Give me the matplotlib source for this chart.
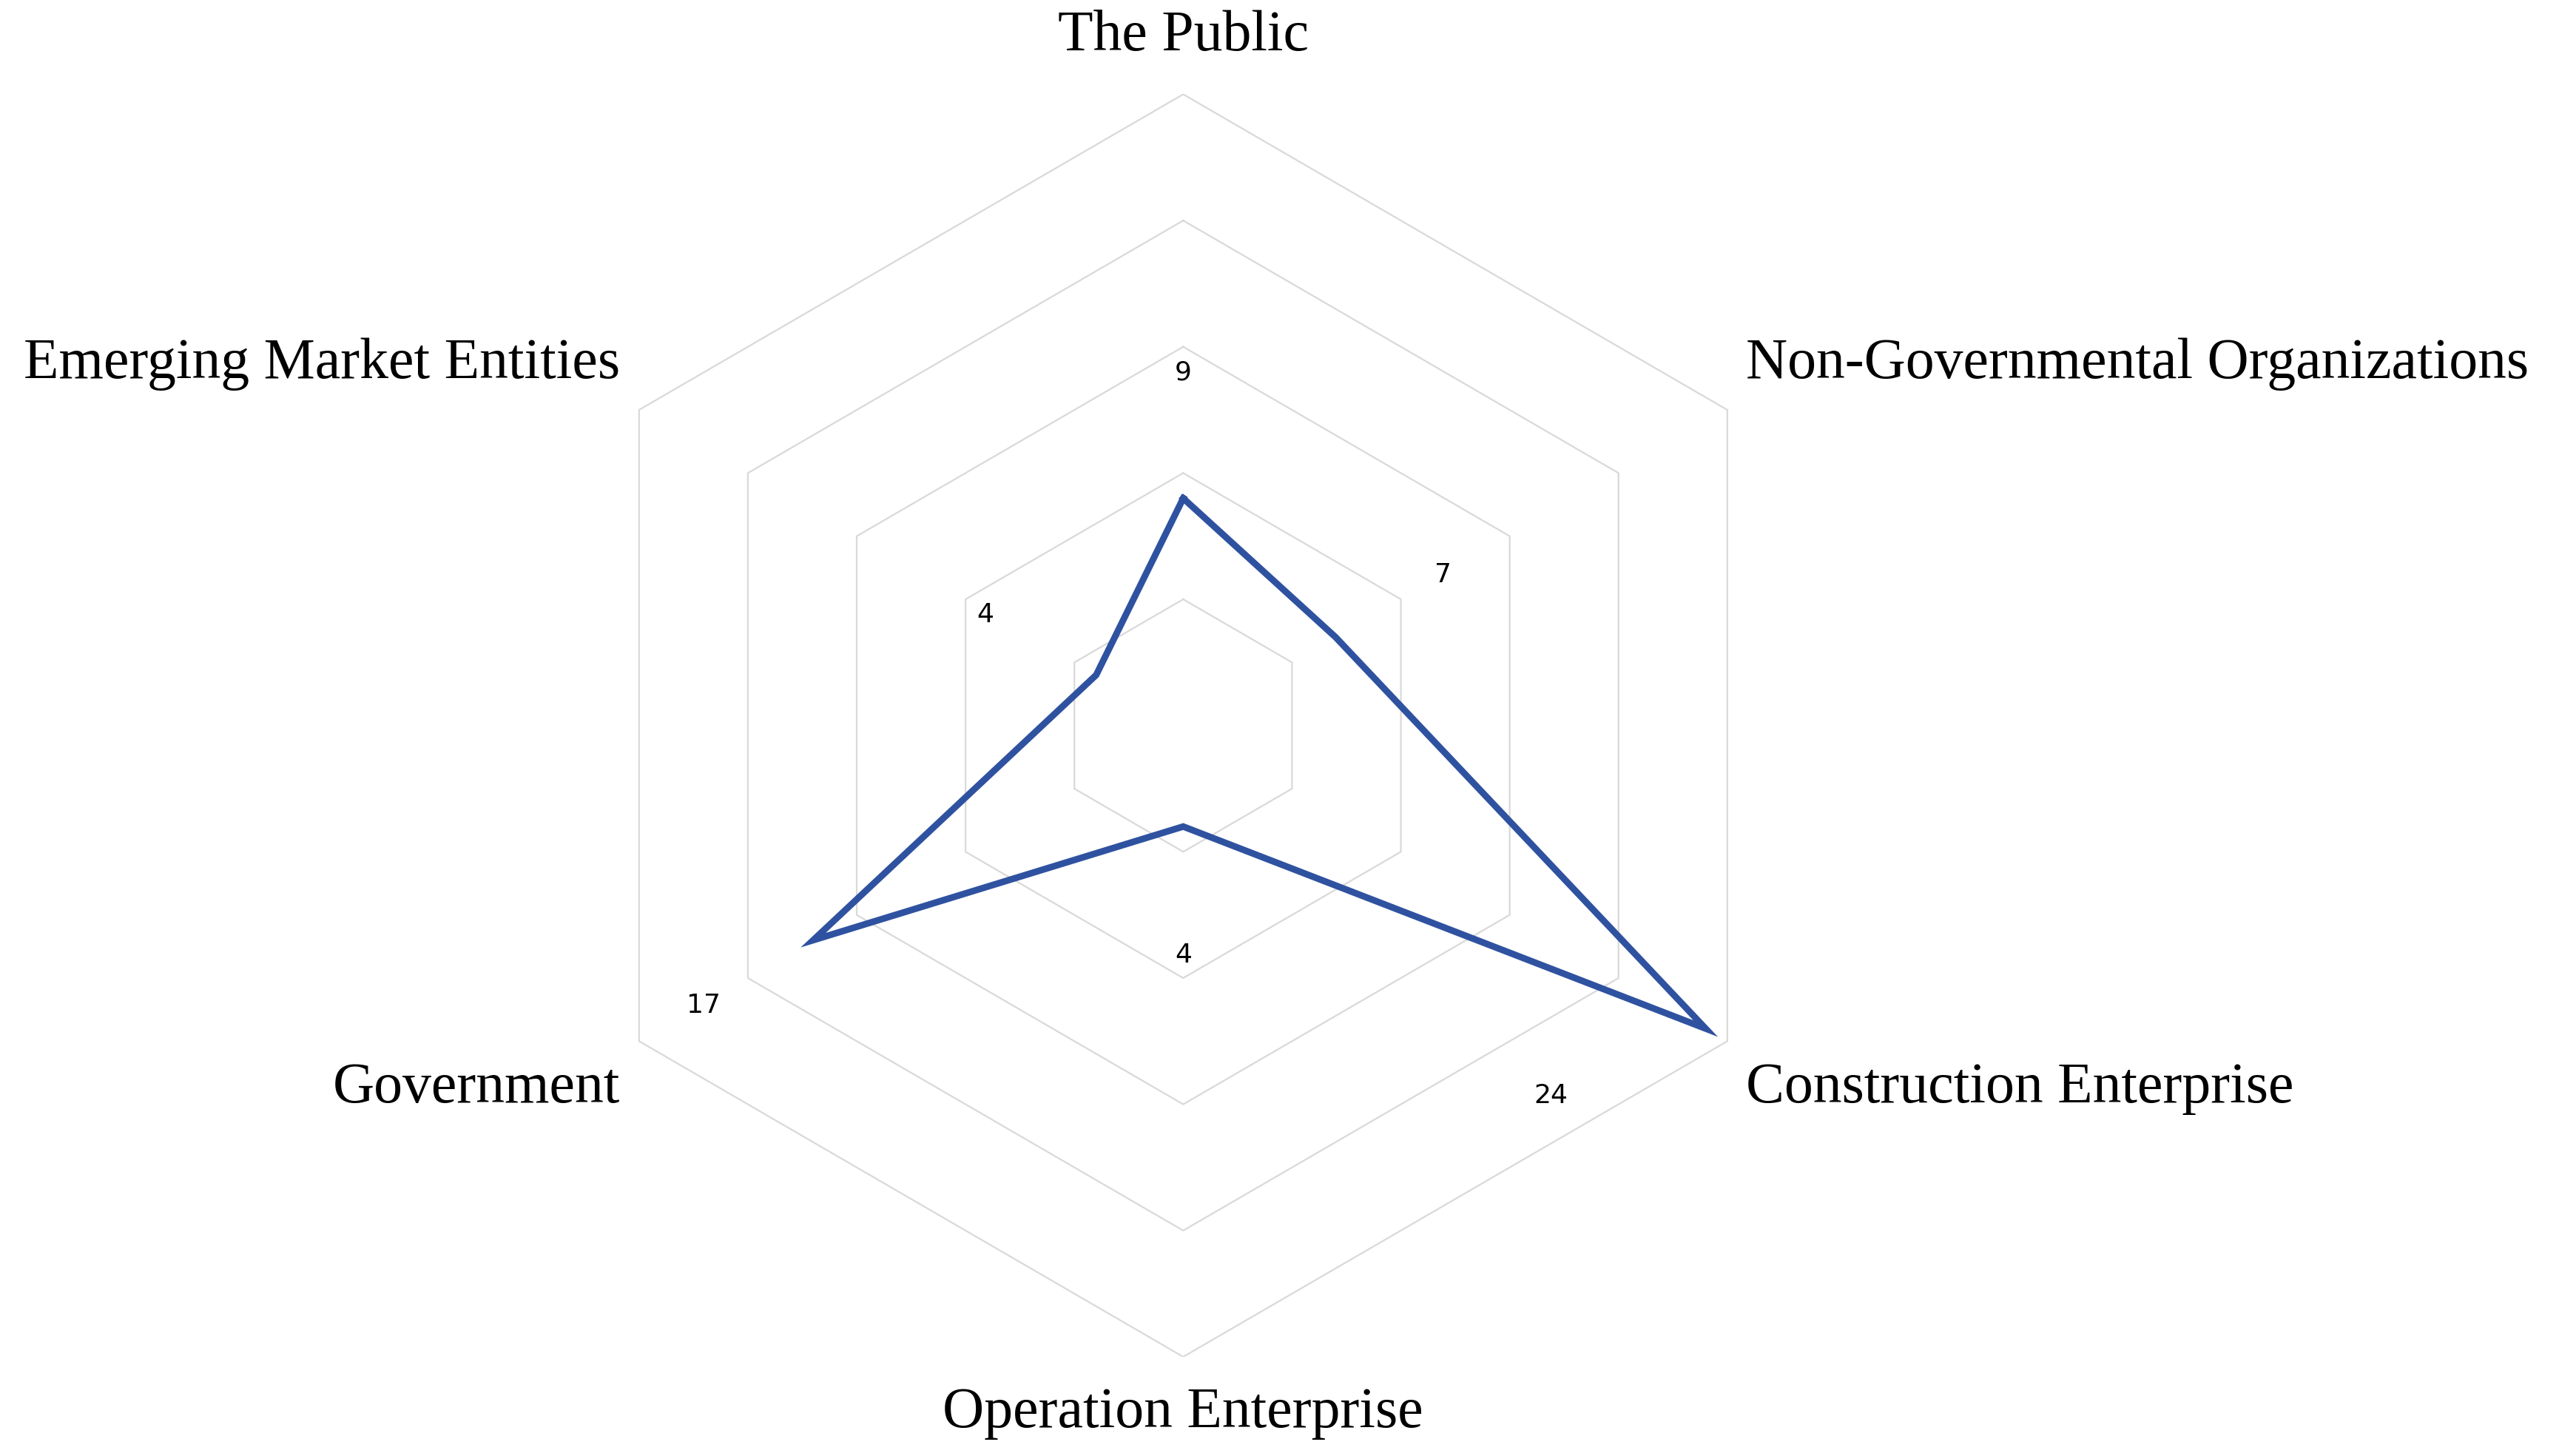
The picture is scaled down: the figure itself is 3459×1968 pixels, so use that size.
import numpy as np
import matplotlib
matplotlib.use('Agg')
import matplotlib.pyplot as plt

categories = ['The Public', 'Non-Governmental Organizations', 'Construction Enterprise',
              'Operation Enterprise', 'Government', 'Emerging Market Entities']
values = [9, 7, 24, 4, 17, 4]
rings = [5, 10, 15, 20, 25]

W, H = 1568, 888  # reference layout units
fig = plt.figure(figsize=(3459 / 200, 1968 / 200), dpi=200)
ax = fig.add_axes([(725 - 385) / W, (H - 827.5) / H, 770 / W, 770 / H])
ax.set_xlim(-25, 25)
ax.set_ylim(-25, 25)
ax.axis('off')

n = len(categories)
theta = np.pi / 2 - np.arange(n) * 2 * np.pi / n
for r in rings:
    t = np.append(theta, theta[0])
    ax.plot(r * np.cos(t), r * np.sin(t), color='#d9d9d9', lw=0.8, zorder=1)

v = np.array(values, dtype=float)
xs, ys = v * np.cos(theta), v * np.sin(theta)
ax.plot(np.append(xs, xs[0]), np.append(ys, ys[0]), color='#2f52a0', lw=3.2,
        solid_joinstyle='miter', zorder=3)

# data label offsets from each vertex, in reference pixels
offsets = [(0, 77), (66, 38), (-95, -41), (0, -79), (-67, -40), (-68, 37)]
k = 2.206 * 72 / 200
for x, y, val, (dx, dy) in zip(xs, ys, values, offsets):
    ax.annotate(str(val), (x, y), xytext=(dx * k, dy * k), textcoords='offset points',
                ha='center', va='center', fontsize=13, family='DejaVu Sans')

label_pos = [(725, 22, 'center'), (1070, 222, 'left'), (1070, 664, 'left'),
             (725, 862, 'center'), (380, 664, 'right'), (380, 222, 'right')]
for name, (px, py, ha) in zip(categories, label_pos):
    fig.text(px / W, 1 - py / H, name, ha=ha, va='center', fontsize=28,
             family='Liberation Serif')

fig.savefig('out.png', dpi=200, facecolor='white')
